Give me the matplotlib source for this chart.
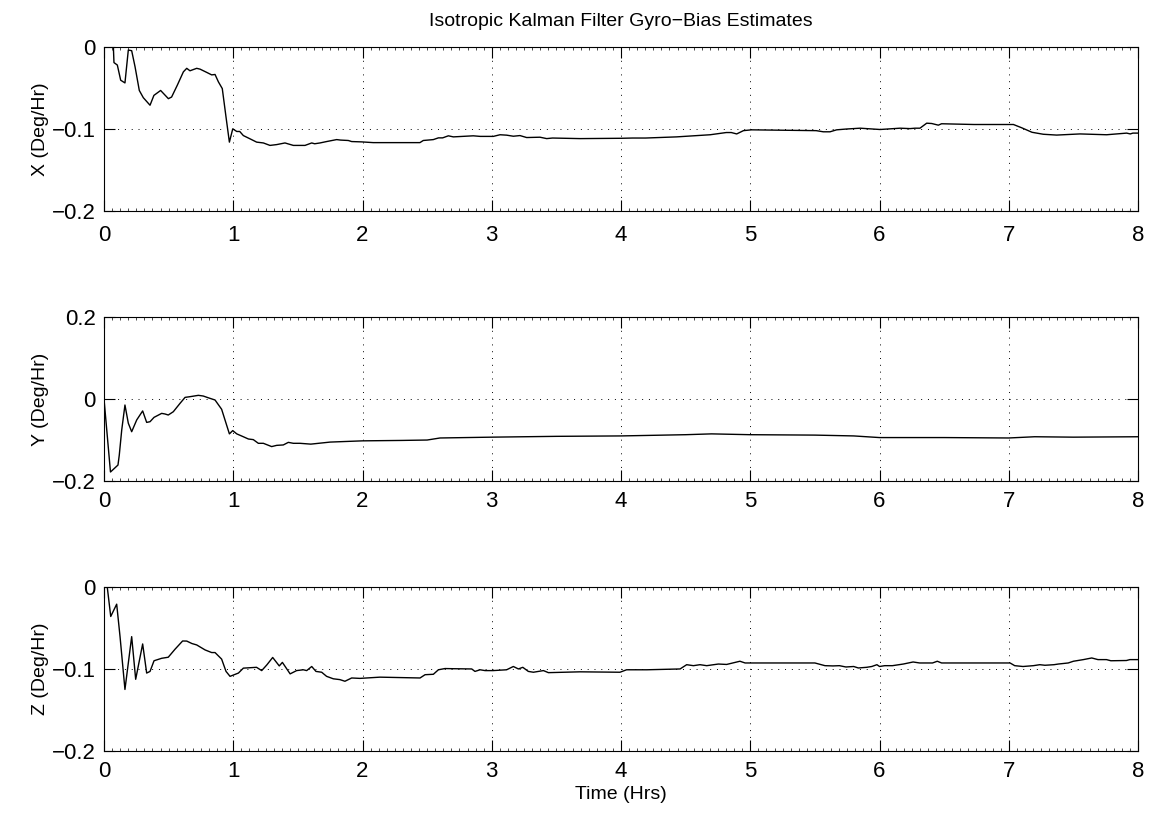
import matplotlib
matplotlib.use('Agg')
import matplotlib.pyplot as plt
from matplotlib.ticker import FixedLocator, FuncFormatter, MultipleLocator

plt.rcParams['font.family'] = ['Liberation Sans', 'DejaVu Sans']

# gyro-bias estimates (time in hrs, bias in deg/hr)
x_t = [0.0, 0.07, 0.077, 0.103, 0.129, 0.162, 0.188, 0.214, 0.24, 0.273, 0.304,
       0.356, 0.386, 0.438, 0.498, 0.523, 0.567, 0.614, 0.64, 0.665, 0.717,
       0.743, 0.795, 0.833, 0.859, 0.885, 0.915, 0.944, 0.97, 0.996, 1.027,
       1.05, 1.078, 1.13, 1.181, 1.233, 1.284, 1.336, 1.40, 1.465, 1.555,
       1.607, 1.63, 1.671, 1.722, 1.80, 1.83, 1.89, 1.916, 1.993, 2.083,
       2.444, 2.47, 2.548, 2.587, 2.62, 2.664, 2.703, 2.857, 2.91, 3.012,
       3.064, 3.115, 3.167, 3.218, 3.27, 3.373, 3.425, 3.47, 3.683, 4.005,
       4.09, 4.19, 4.43, 4.69, 4.814, 4.853, 4.895, 4.947, 5.01, 5.51, 5.565,
       5.617, 5.668, 5.745, 5.85, 6.004, 6.159, 6.236, 6.275, 6.313, 6.365,
       6.404, 6.455, 6.48, 6.73, 7.036, 7.10, 7.18, 7.267, 7.37, 7.551,
       7.757, 7.912, 7.94, 7.96, 8.0]
x_bias = [0.02, 0.01, -0.019, -0.022, -0.0405, -0.0438, -0.0037, -0.0045,
          -0.024, -0.053, -0.0618, -0.071, -0.059, -0.053, -0.063, -0.061,
          -0.0466, -0.0303, -0.026, -0.029, -0.026, -0.027, -0.031, -0.034,
          -0.0335, -0.0425, -0.0507, -0.0855, -0.116, -0.0998, -0.103, -0.103,
          -0.108, -0.112, -0.116, -0.117, -0.120, -0.119, -0.117, -0.120,
          -0.120, -0.117, -0.118, -0.117, -0.1153, -0.1129, -0.1135, -0.114,
          -0.1153, -0.1157, -0.1166, -0.1166, -0.114, -0.1129, -0.1108,
          -0.1108, -0.1083, -0.1096, -0.1083, -0.109, -0.109, -0.107, -0.1075,
          -0.1088, -0.108, -0.1104, -0.110, -0.1117, -0.111, -0.1117, -0.1113,
          -0.111, -0.111, -0.1096, -0.107, -0.1043, -0.1043, -0.106, -0.102,
          -0.101, -0.102, -0.1034, -0.1034, -0.101, -0.100, -0.099, -0.1006,
          -0.099, -0.0995, -0.099, -0.099, -0.0929, -0.0933, -0.0953, -0.0936,
          -0.0945, -0.0945, -0.0985, -0.104, -0.1064, -0.1074, -0.106, -0.107,
          -0.105, -0.106, -0.105, -0.105]

y_t = [0.0, 0.05, 0.108, 0.118, 0.137, 0.162, 0.188, 0.214, 0.253, 0.299,
       0.33, 0.356, 0.387, 0.446, 0.472, 0.497, 0.536, 0.588, 0.627, 0.665,
       0.73, 0.768, 0.807, 0.859, 0.91, 0.944, 0.97, 0.996, 1.027, 1.078,
       1.117, 1.155, 1.194, 1.233, 1.297, 1.336, 1.387, 1.426, 1.465, 1.516,
       1.6, 1.75, 2.0, 2.3, 2.5, 2.6, 2.8, 3.0, 3.5, 4.0, 4.5, 4.7, 5.0, 5.5,
       5.8, 6.0, 6.5, 7.0, 7.2, 7.5, 8.0]
y_bias = [0.0, -0.178, -0.161, -0.137, -0.0756, -0.0146, -0.059, -0.0797,
          -0.051, -0.029, -0.057, -0.0553, -0.0447, -0.035, -0.0365, -0.039,
          -0.031, -0.0106, 0.004, 0.0057, 0.009, 0.0073, 0.003, -0.0024,
          -0.025, -0.059, -0.085, -0.077, -0.085, -0.092, -0.0975, -0.099,
          -0.108, -0.108, -0.116, -0.113, -0.112, -0.1057, -0.108, -0.108,
          -0.110, -0.105, -0.102, -0.101, -0.100, -0.095, -0.094, -0.093,
          -0.091, -0.090, -0.087, -0.085, -0.087, -0.088, -0.090, -0.094,
          -0.094, -0.095, -0.092, -0.093, -0.092]

z_t = [0.0, 0.025, 0.052, 0.098, 0.124, 0.162, 0.214, 0.245, 0.299, 0.33,
       0.356, 0.387, 0.446, 0.497, 0.549, 0.608, 0.64, 0.68, 0.717, 0.782,
       0.833, 0.859, 0.91, 0.944, 0.975, 1.04, 1.078, 1.18, 1.22, 1.26,
       1.305, 1.356, 1.38, 1.44, 1.49, 1.542, 1.568, 1.607, 1.64, 1.684,
       1.722, 1.774, 1.825, 1.864, 1.916, 1.98, 2.135, 2.445, 2.484, 2.548,
       2.587, 2.638, 2.703, 2.845, 2.87, 2.91, 2.948, 3.01, 3.115, 3.167,
       3.206, 3.24, 3.283, 3.322, 3.4, 3.438, 3.683, 3.992, 4.043, 4.2, 4.457,
       4.508, 4.56, 4.611, 4.663, 4.753, 4.817, 4.92, 4.96, 5.13, 5.5, 5.578,
       5.64, 5.69, 5.74, 5.80, 5.836, 5.9, 5.94, 5.98, 6.0, 6.04, 6.1, 6.184,
       6.26, 6.31, 6.41, 6.447, 6.48, 6.67, 7.01, 7.046, 7.11, 7.19, 7.24,
       7.28, 7.35, 7.383, 7.46, 7.5, 7.577, 7.642, 7.69, 7.756, 7.79, 7.91,
       7.937, 8.0]
z_bias = [0.02, 0.0, -0.036, -0.021, -0.0606, -0.125, -0.0606, -0.1126,
          -0.0695, -0.105, -0.103, -0.090, -0.087, -0.0857, -0.076, -0.0659,
          -0.066, -0.069, -0.0707, -0.0768, -0.080, -0.080, -0.088, -0.103,
          -0.109, -0.105, -0.099, -0.098, -0.102, -0.095, -0.086, -0.0963,
          -0.092, -0.106, -0.102, -0.101, -0.102, -0.097, -0.103, -0.104,
          -0.109, -0.112, -0.113, -0.115, -0.111, -0.1115, -0.110, -0.111,
          -0.107, -0.1065, -0.101, -0.0995, -0.0997, -0.100, -0.103, -0.101,
          -0.102, -0.102, -0.101, -0.097, -0.100, -0.098, -0.103, -0.104,
          -0.102, -0.1045, -0.1035, -0.104, -0.101, -0.101, -0.100, -0.0948,
          -0.096, -0.0948, -0.096, -0.094, -0.0945, -0.0906, -0.0927, -0.0927,
          -0.0927, -0.096, -0.0963, -0.096, -0.0976, -0.097, -0.0988, -0.098,
          -0.097, -0.0948, -0.097, -0.096, -0.096, -0.094, -0.0915, -0.0927,
          -0.0927, -0.0906, -0.0927, -0.0927, -0.0927, -0.096, -0.097, -0.096,
          -0.0948, -0.0955, -0.0948, -0.094, -0.0927, -0.0906, -0.0886,
          -0.0866, -0.0886, -0.0886, -0.090, -0.0897, -0.0886, -0.0886]

x_ticks = [0, 1, 2, 3, 4, 5, 6, 7, 8]
panels = [
    ('X (Deg/Hr)', x_t, x_bias, (-0.2, 0), [-0.2, -0.1, 0]),
    ('Y (Deg/Hr)', y_t, y_bias, (-0.2, 0.2), [-0.2, 0, 0.2]),
    ('Z (Deg/Hr)', z_t, z_bias, (-0.2, 0), [-0.2, -0.1, 0]),
]


def fmt(v, pos):
    return ('%g' % round(v, 3)).replace('-', '\u2212')


fig = plt.figure(figsize=(11.57, 8.16), dpi=100)
bottoms = [0.7414, 0.4105, 0.0797]

for i, (label, t, b, ylim, yticks) in enumerate(panels):
    ax = fig.add_axes([0.0899, bottoms[i], 0.8937, 0.201])
    ax.plot(t, b, color='black', linewidth=1.0)
    ax.set_xlim(0, 8)
    ax.set_ylim(*ylim)
    ax.xaxis.set_major_locator(FixedLocator(x_ticks))
    ax.yaxis.set_major_locator(FixedLocator(yticks))
    ax.xaxis.set_minor_locator(MultipleLocator(0.0625))
    ax.xaxis.set_major_formatter(FuncFormatter(fmt))
    ax.yaxis.set_major_formatter(FuncFormatter(fmt))
    ax.tick_params(which='major', direction='in', length=8, width=0.8,
                   top=True, right=True, labelsize=16, pad=6)
    ax.tick_params(axis='x', which='major', pad=10 if i == 0 else 7)
    ax.tick_params(which='minor', direction='in', length=2, width=0.5,
                   top=True, bottom=True)
    ax.grid(True, which='major', linestyle=(0, (1, 6)), color='black',
            linewidth=0.7)
    for s in ax.spines.values():
        s.set_linewidth(0.8)
    ax.set_ylabel(label, fontsize=14, labelpad=2)
    if i == 0:
        ax.set_title('Isotropic Kalman Filter Gyro\u2212Bias Estimates',
                     fontsize=14, pad=15)
    if i == 2:
        ax.set_xlabel('Time (Hrs)', fontsize=14, labelpad=3)

fig.savefig('out.png', dpi=100)
